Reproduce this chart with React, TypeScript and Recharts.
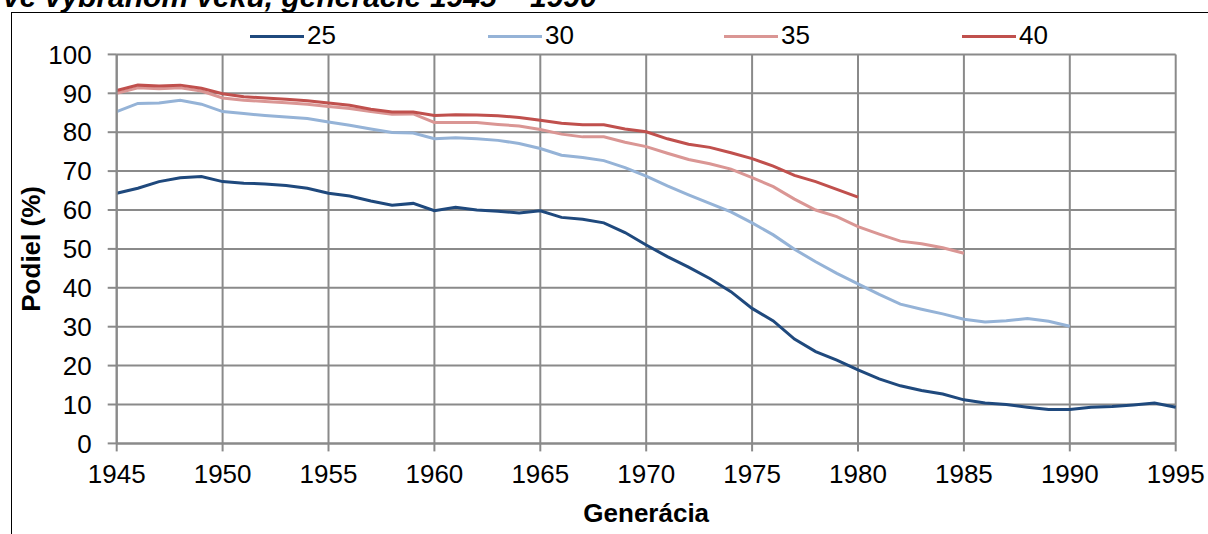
import { LineChart, Line, XAxis, YAxis, CartesianGrid } from "recharts";

// generations 1945 - 1995
const years = [
  1945, 1946, 1947, 1948, 1949, 1950, 1951, 1952, 1953, 1954,
  1955, 1956, 1957, 1958, 1959, 1960, 1961, 1962, 1963, 1964,
  1965, 1966, 1967, 1968, 1969, 1970, 1971, 1972, 1973, 1974,
  1975, 1976, 1977, 1978, 1979, 1980, 1981, 1982, 1983, 1984,
  1985, 1986, 1987, 1988, 1989, 1990, 1991, 1992, 1993, 1994, 1995,
];

// share (%) by age 25
const age25 = [
  64.3, 65.6, 67.3, 68.3, 68.6, 67.3, 66.9, 66.7, 66.3, 65.6,
  64.3, 63.6, 62.3, 61.2, 61.7, 59.8, 60.7, 60.0, 59.7, 59.2,
  59.8, 58.1, 57.6, 56.7, 54.2, 51.0, 48.0, 45.3, 42.4, 39.0,
  34.7, 31.5, 26.8, 23.6, 21.4, 18.9, 16.6, 14.8, 13.6, 12.7,
  11.2, 10.4, 10.0, 9.3, 8.7, 8.7, 9.3, 9.5, 9.9, 10.4, 9.3,
];

// by age 30 (1945-1990)
const age30 = [
  85.3, 87.4, 87.5, 88.2, 87.2, 85.3, 84.8, 84.3, 83.9, 83.5,
  82.6, 81.8, 80.8, 79.9, 79.8, 78.3, 78.6, 78.3, 77.9, 77.1,
  75.8, 74.1, 73.5, 72.7, 70.9, 68.7, 66.2, 63.9, 61.7, 59.5,
  56.7, 53.6, 49.9, 46.7, 43.7, 41.0, 38.3, 35.8, 34.5, 33.3,
  31.9, 31.2, 31.5, 32.1, 31.4, 30.1,
];

// by age 35 (1945-1985)
const age35 = [
  90.0, 91.4, 91.2, 91.4, 90.6, 88.8, 88.2, 87.9, 87.6, 87.2,
  86.6, 86.1, 85.3, 84.6, 84.7, 82.5, 82.5, 82.5, 82.0, 81.6,
  80.7, 79.5, 78.8, 78.8, 77.4, 76.3, 74.6, 73.0, 71.9, 70.5,
  68.3, 66.0, 62.8, 60.0, 58.3, 55.7, 53.8, 52.0, 51.3, 50.3,
  48.9,
];

// by age 40 (1945-1980)
const age40 = [
  90.7, 92.1, 91.9, 92.1, 91.3, 89.9, 89.1, 88.8, 88.5, 88.1,
  87.5, 86.9, 85.9, 85.2, 85.2, 84.3, 84.5, 84.4, 84.2, 83.8,
  83.1, 82.3, 81.9, 81.9, 80.8, 80.1, 78.3, 76.9, 76.1, 74.7,
  73.2, 71.3, 68.9, 67.3, 65.3, 63.3,
];

const xTicks = [1945, 1950, 1955, 1960, 1965, 1970, 1975, 1980, 1985, 1990, 1995];
const yTicks = [0, 10, 20, 30, 40, 50, 60, 70, 80, 90, 100];

const series = [
  { key: "a25", name: "25", values: age25, color: "#1F497D", legendX: 250 },
  { key: "a30", name: "30", values: age30, color: "#95B3D7", legendX: 488 },
  { key: "a35", name: "35", values: age35, color: "#DA9694", legendX: 724 },
  { key: "a40", name: "40", values: age40, color: "#C0504D", legendX: 962 },
];

const data = years.map((year, i) => {
  const row: Record<string, number | null> = { year };
  series.forEach((s) => {
    row[s.key] = i < s.values.length ? s.values[i] : null;
  });
  return row;
});

const FONT = '"Liberation Sans", Arial, sans-serif';
const GRID = "#8a8a8a";

export default function App() {
  return (
    <div
      style={{
        position: "absolute",
        left: 0,
        top: 0,
        width: 1208,
        height: 534,
        overflow: "hidden",
        background: "#fff",
        fontFamily: FONT,
      }}
    >
      {/* title, cut off at the top like in the source */}
      <div
        style={{
          position: "absolute",
          left: 3,
          top: -18.4,
          fontSize: 30,
          lineHeight: "30px",
          fontWeight: "bold",
          fontStyle: "italic",
          whiteSpace: "nowrap",
        }}
      >
        ve vybranom veku, generácie 1945 – 1990
      </div>

      {/* frame of the chart area */}
      <div
        style={{
          position: "absolute",
          left: 11,
          top: 12,
          width: 1300,
          height: 600,
          borderLeft: "1.5px solid #000",
          borderTop: "1.5px solid #000",
        }}
      />

      {/* legend */}
      {series.map((s) => (
        <div key={s.key}>
          <div
            style={{
              position: "absolute",
              left: s.legendX,
              top: 34.5,
              width: 54,
              height: 3,
              background: s.color,
            }}
          />
          <div
            style={{
              position: "absolute",
              left: s.legendX + 57,
              top: 21,
              fontSize: 26,
              lineHeight: "29px",
              color: "#000",
            }}
          >
            {s.name}
          </div>
        </div>
      ))}

      <div style={{ position: "absolute", left: 0, top: 0 }}>
        <LineChart
          width={1208}
          height={534}
          data={data}
          margin={{ top: 54.4, right: 32.3, bottom: 5.6, left: 0 }}
        >
          <CartesianGrid stroke={GRID} strokeWidth={2} />
          <XAxis
            dataKey="year"
            type="number"
            domain={[1945, 1995]}
            ticks={xTicks}
            interval={0}
            height={85}
            tickSize={8}
            tickMargin={13}
            stroke={GRID}
            strokeWidth={2}
            tick={{ fill: "#000", fontSize: 26, fontFamily: FONT }}
            label={{
              value: "Generácia",
              position: "insideBottom",
              offset: 6,
              style: { fill: "#000", fontSize: 26, fontWeight: "bold", fontFamily: FONT },
            }}
          />
          <YAxis
            type="number"
            domain={[0, 100]}
            ticks={yTicks}
            interval={0}
            width={116.7}
            tickSize={9}
            tickMargin={16}
            stroke={GRID}
            strokeWidth={2}
            tick={{ fill: "#000", fontSize: 26, fontFamily: FONT }}
            label={{
              value: "Podiel (%)",
              angle: -90,
              position: "insideLeft",
              offset: 31,
              style: {
                fill: "#000",
                fontSize: 26,
                fontWeight: "bold",
                fontFamily: FONT,
                textAnchor: "middle",
              },
            }}
          />
          {series.map((s) => (
            <Line
              key={s.key}
              dataKey={s.key}
              name={s.name}
              stroke={s.color}
              strokeWidth={3}
              dot={false}
              activeDot={false}
              connectNulls={false}
              isAnimationActive={false}
            />
          ))}
        </LineChart>
      </div>
    </div>
  );
}
